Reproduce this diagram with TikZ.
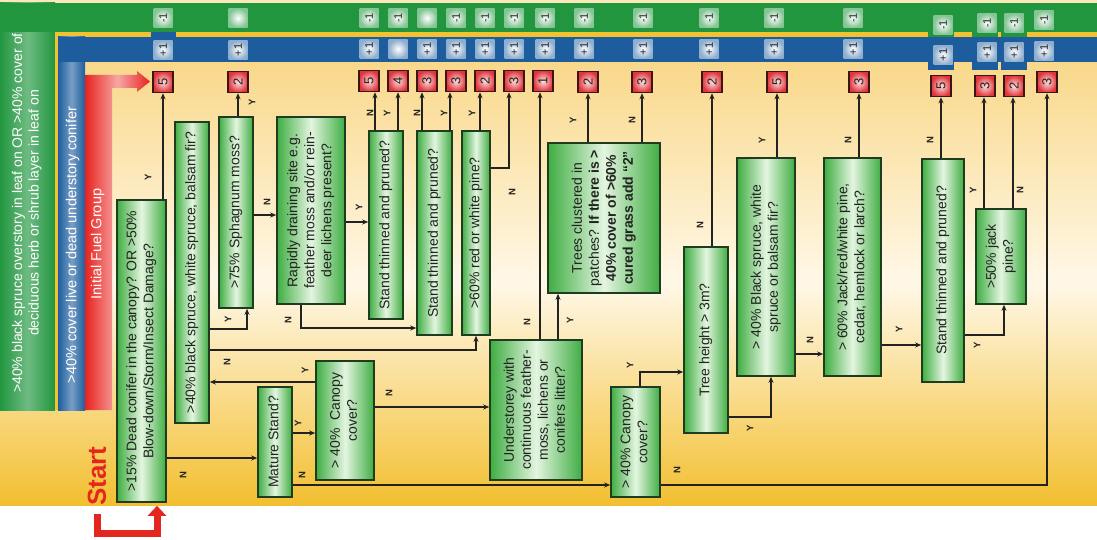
\documentclass[tikz,border=0pt]{standalone}
\usepackage{fontspec}
\setmainfont{Liberation Sans}
\usepackage{graphicx}
\usetikzlibrary{arrows.meta}
\definecolor{bandgreen}{HTML}{21963F}
\definecolor{bandblue}{HTML}{1D5D9E}
\definecolor{stripyellow}{HTML}{F2C230}
\definecolor{fuelred}{HTML}{E8231F}
\definecolor{qgreen}{HTML}{3FAD42}
\definecolor{qlight}{HTML}{E4F5E0}
\definecolor{qedge}{HTML}{1F3B20}
\definecolor{rred}{HTML}{E0353B}
\definecolor{rlight}{HTML}{FBE0E0}
\definecolor{redge}{HTML}{3B1616}
\definecolor{bgtop}{HTML}{F9D88A}
\definecolor{bgmid}{HTML}{FFF8E8}
\definecolor{bgbot}{HTML}{F3BF30}
\definecolor{startred}{HTML}{E4261E}
\definecolor{ink}{HTML}{222222}
\newcommand{\vt}[1]{\rotatebox{90}{\begin{tabular}{@{}c@{}}#1\end{tabular}}}
\tikzset{arr/.style={draw=ink, line width=1.1pt, -{Stealth[length=6pt,width=5pt]}}}

\begin{document}
\begin{tikzpicture}[x=1pt, y=-1pt,
    qbox/.style={draw=qedge, line width=1.6pt, inner sep=0pt, left color=qgreen, right color=qgreen,
      middle color=qlight, text=ink, font=\fontsize{14}{17}\selectfont},
    rbox/.style={draw=redge, line width=1.5pt, inner sep=0pt, minimum width=20pt, minimum height=21pt,
      inner color=rlight, outer color=rred, text=ink, font=\fontsize{13}{13}\selectfont},
    gsq/.style={minimum size=19pt, inner sep=0pt, inner color=white, outer color=bandgreen!55!white, text=ink,
      font=\fontsize{11}{11}\selectfont},
    bsq/.style={gsq, outer color=bandblue!50!white},
    yn/.style={rotate=90, inner sep=0pt, text=ink, font=\fontsize{9.5}{10}\selectfont\bfseries},
    bandtxt/.style={text=white, inner sep=0pt, font=\fontsize{14.5}{16.5}\selectfont},
    starttxt/.style={rotate=90, inner sep=0pt, text=startred, font=\fontsize{26}{26}\selectfont\bfseries},
    startarr/.style={draw=startred, line width=7pt, -{Triangle[length=10pt,width=18pt]}}]
  \useasboundingbox (0,0) rectangle (1097,540);
  % background and bands
  \fill[white] (0,0) rectangle (1097,540);
  \fill[bgtop!60!white] (0,0) rectangle (1097,62);
  \shade[top color=bgtop, bottom color=bgbot, middle color=bgmid] (0,62) rectangle (1097,505);
  \shade[left color=bandgreen, right color=bandgreen, middle color=bandgreen!65!white] (0,3) rectangle (55,410);
  \fill[bandgreen] (0,3) rectangle (1097,32);
  \fill[stripyellow] (55,32) rectangle (1097,37);
  \fill[stripyellow] (55,37) rectangle (58,410);
  \shade[left color=bandblue, right color=bandblue, middle color=bandblue!60!white] (58,37) rectangle (85,410);
  \fill[bandblue] (58,37) rectangle (1097,62);
  \fill[bandblue] (151,32) rectangle (176,37);
  \foreach \sx in {941,985,1014}{%
    \fill[bandgreen] ({\sx-13},11) rectangle ({\sx+13},37);
    \fill[bandblue] ({\sx-13},40) rectangle ({\sx+13},70);}
  \shade[left color=fuelred, right color=fuelred, middle color=fuelred!40!white]
    (85,410) -- (85,75) -- (137,75) -- (137,71) -- (150,81.5) -- (137,92) -- (137,88) -- (112,88) -- (112,410) -- cycle;
  \node[bandtxt, font=\fontsize{14}{16.5}\selectfont] (greentxt) at (27,213) {\vt{>40\% black spruce overstory in leaf on OR >40\% cover of\\deciduous herb or shrub layer in leaf on}};
  \node[bandtxt] (bluetxt) at (73,245) {\vt{>40\% cover live or dead understory conifer}};
  \node[bandtxt] (redtxt) at (98,244) {\vt{Initial Fuel Group}};
  % modifier squares
  \foreach \sx/\sy/\st [count=\k] in {163/18/-1, 238/18/{}, 369/18/-1, 398/18/-1, 427/18/{}, 456/18/-1,
      485/18/-1, 514/18/-1, 545/18/-1, 584/18/-1, 643/18/-1, 709/18/-1, 774/18/-1, 853/18/-1,
      943/25/-1, 987/23/-1, 1014/23/-1, 1044/20/-1}
    \node[gsq] (gsq\k) at (\sx,\sy) {\rotatebox{90}{\st}};
  \foreach \sx/\sy/\st [count=\k] in {163/50/+1, 238/50/+1, 369/49/+1, 398/49/{}, 427/49/+1, 456/49/+1,
      485/49/+1, 514/49/+1, 545/49/+1, 584/49/+1, 643/49/+1, 709/49/+1, 774/49/+1, 853/49/+1,
      943/55/+1, 987/52/+1, 1014/52/+1, 1044/51/+1}
    \node[bsq] (bsq\k) at (\sx,\sy) {\rotatebox{90}{\st}};
  % fuel group results
  \foreach \rn/\rx/\ry/\rv in {r1/163/82/5, r2/238/82/2, r3/369/81/5, r4/398/81/4, r5/427/81/3, r6/456/81/3,
      r7/485/81/2, r8/514/81/3, r9/543/81/1, r10/588/82/2, r11/642/82/3, r12/712/82/2, r13/777/82/5,
      r14/859/82/3, r15/941/86/5, r16/985/86/3, r17/1014/86/2, r18/1047/82/3}
    \node[rbox] (\rn) at (\rx,\ry) {\rotatebox{90}{\rv}};
  % questions
  \node[qbox, minimum width=49pt, minimum height=302pt] (dead) at (141.5,351)
    {\vt{>15\% Dead conifer in the canopy? OR >50\%\\Blow-down/Storm/Insect Damage?}};
  \node[qbox, minimum width=34pt, minimum height=301pt] (spruce) at (192,272.5)
    {\vt{>40\% black spruce, white spruce, balsam fir?}};
  \node[qbox, minimum width=34pt, minimum height=191pt] (sphag) at (236,212.5)
    {\vt{>75\% Sphagnum moss?}};
  \node[qbox, minimum width=34pt, minimum height=110pt] (mature) at (275,442)
    {\vt{Mature Stand?}};
  \node[qbox, minimum width=58pt, minimum height=119pt] (canopyA) at (345,420.5)
    {\vt{> 40\%\ \ Canopy\\cover?}};
  \node[qbox, minimum width=68pt, minimum height=187pt] (rapid) at (311,210.5)
    {\vt{Rapidly draining site e.g.\\feather moss and/or rein-\\deer lichens present?}};
  \node[qbox, minimum width=34pt, minimum height=188pt] (standA) at (386,225)
    {\vt{Stand thinned and pruned?}};
  \node[qbox, minimum width=35pt, minimum height=204pt] (standB) at (434.5,233)
    {\vt{Stand thinned and pruned?}};
  \node[qbox, minimum width=28pt, minimum height=204pt] (pine) at (476,233)
    {\vt{>60\% red or white pine?}};
  \node[qbox, minimum width=92pt, minimum height=140pt] (under) at (536,410)
    {\vt{Understorey with\\continuous feather-\\moss, lichens or\\conifers litter?}};
  \node[qbox, minimum width=112pt, minimum height=150pt] (trees) at (604,218)
    {\vt{Trees clustered in\\patches? \textbf{If there is >}\\\textbf{40\% cover of >60\%}\\\textbf{cured grass add “2”}}};
  \node[qbox, minimum width=49pt, minimum height=110pt] (canopyB) at (635.5,442)
    {\vt{> 40\% Canopy\\cover?}};
  \node[qbox, minimum width=44pt, minimum height=186pt] (height) at (706,340)
    {\vt{Tree height > 3m?}};
  \node[qbox, minimum width=58pt, minimum height=218pt] (black) at (766,267)
    {\vt{> 40\% Black spruce, white\\spruce or balsam fir?}};
  \node[qbox, minimum width=57pt, minimum height=218pt] (jack) at (852.5,267)
    {\vt{> 60\% Jack/red/white pine,\\cedar, hemlock or larch?}};
  \node[qbox, minimum width=42pt, minimum height=223pt] (standC) at (943,270.5)
    {\vt{Stand thinned and pruned?}};
  \node[qbox, minimum width=50pt, minimum height=95pt] (jackpine) at (1001,256.5)
    {\vt{>50\% jack\\pine?}};
  % start
  \node[starttxt] (start) at (97,476) {Start};
  \draw[startarr, shorten <=8pt, shorten >=3pt] (start.west) -- (start.west |- 0,533) -| (dead.south -| 157,0);
  % connectors
  \draw[arr] (dead.north -| r1) -- (r1.south);
  \draw[arr] (dead.east |- 0,458) -- (mature.west |- 0,458);
  \draw[arr] (spruce.east |- 0,329) -| (sphag.south -| 247,0);
  \draw[arr] (spruce.east |- 0,350) -| (pine.south);
  \draw[arr] (canopyA.west |- 0,382) -- (spruce.east |- 0,382);
  \draw[arr] (mature.east |- 0,433) -- (canopyA.west |- 0,433);
  \draw[arr] (mature.east |- 0,485) -- (canopyB.west |- 0,485);
  \draw[arr] (canopyA.east |- 0,407) -- (under.west |- 0,407);
  \draw[arr] (sphag.east |- 0,215) -- (rapid.west |- 0,215);
  \draw[arr] (sphag.north -| r2) -- (r2.south);
  \draw[arr] (rapid.east |- 0,222) -- (standA.west |- 0,222);
  \draw[arr] (rapid.south -| 301,0) |- (standB.west |- 0,328);
  \draw[arr] (standA.north -| 375,0) -- (r3.south -| 375,0);
  \draw[arr] (standA.north -| r4) -- (r4.south);
  \draw[arr] (standB.north -| 422,0) -- (r5.south -| 422,0);
  \draw[arr] (standB.north -| 450,0) -- (r6.south -| 450,0);
  \draw[arr] (pine.north -| 480,0) -- (r7.south -| 480,0);
  \draw[arr] (pine.east |- 0,168) -| (r8.south -| 509,0);
  \draw[arr] (under.north -| 540,0) -- (r9.south -| 540,0);
  \draw[arr] (under.north -| 558,0) -- (trees.south -| 558,0);
  \draw[arr] (trees.north -| r10) -- (r10.south);
  \draw[arr] (trees.north -| r11) -- (r11.south);
  \draw[arr] (canopyB.north -| 640,0) |- (height.west |- 0,372);
  \draw[arr] (canopyB.east |- 0,485) -| (r18.south);
  \draw[arr] (height.north -| r12) -- (r12.south);
  \draw[arr] (height.east |- 0,417) -| (black.south -| 771,0);
  \draw[arr] (black.north -| r13) -- (r13.south);
  \draw[arr] (black.east |- 0,354) -- (jack.west |- 0,354);
  \draw[arr] (jack.north -| r14) -- (r14.south);
  \draw[arr] (jack.east |- 0,345) -- (standC.west |- 0,345);
  \draw[arr] (standC.north -| r15) -- (r15.south);
  \draw[arr] (standC.east |- 0,335) -| (jackpine.south -| 1004,0);
  \draw[arr] (jackpine.north -| 984,0) -- (r16.south -| 984,0);
  \draw[arr] (jackpine.north -| 1013,0) -- (r17.south -| 1013,0);
  % yes/no labels
  \foreach \lx/\ly/\lt [count=\k] in {148/177/Y, 183/475/N, 228/319/Y, 227/362/N, 305/370/Y, 298/423/Y,
      302/475/N, 389/393/N, 267/202/N, 252/102/Y, 359/207/Y, 288/320/N, 370/113/N, 387/113/Y,
      417/113/N, 444/113/Y, 472/113/Y, 512/192/N, 527/322/N, 570/320/Y, 573/120/Y, 632/120/N,
      630/365/Y, 677/470/N, 700/225/N, 750/428/Y, 762/140/Y, 810/340/N, 848/140/N, 899/329/Y,
      930/140/N, 977/345/Y, 973/190/Y, 1020/190/N}
    \node[yn] (yn\k) at (\lx,\ly) {\lt};
\end{tikzpicture}
\end{document}
